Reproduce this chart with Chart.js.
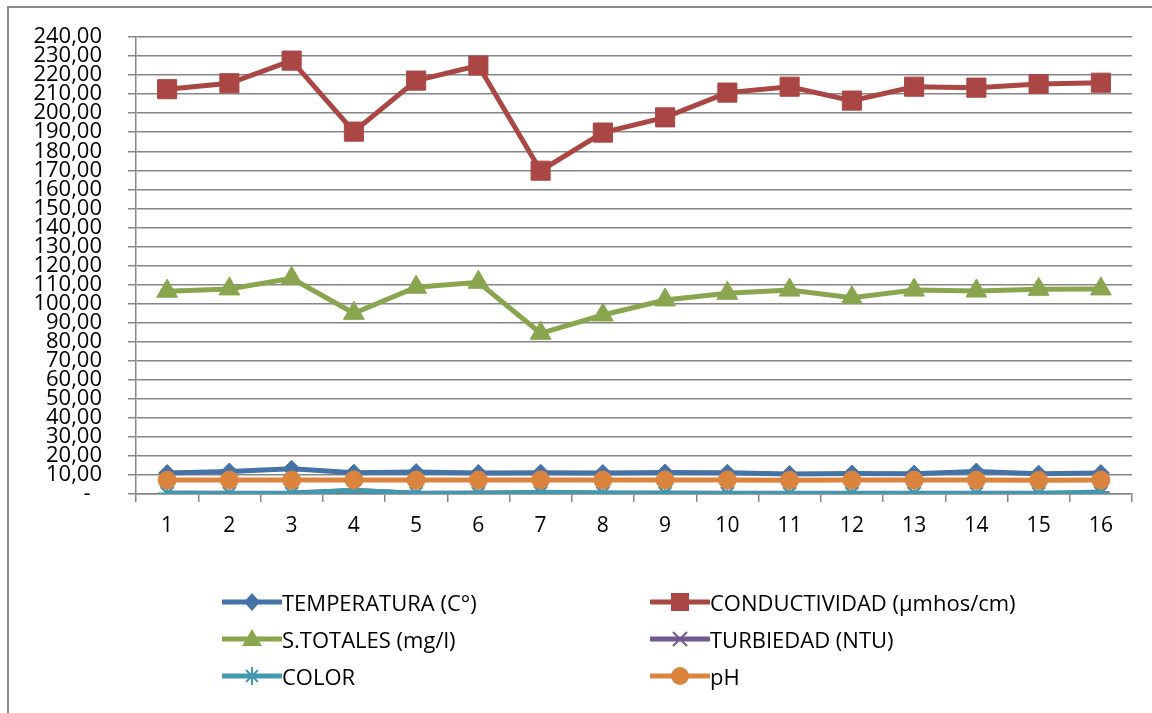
<!DOCTYPE html>
<html>
<head>
<meta charset="utf-8">
<script src="https://cdn.jsdelivr.net/npm/chart.js@4.4.1/dist/chart.umd.min.js"></script>
<style>
  html, body { margin: 0; padding: 0; background: #fff; }
  #wrap { position: relative; width: 1152px; height: 713px; overflow: hidden; font-family: 'Open Sans', sans-serif; }
  #frame { position: absolute; left: 7px; top: 6px; width: 1200px; height: 800px; border: 2px solid #8a8a8a; box-sizing: border-box; }
  #chart { position: absolute; left: 0; top: 0; }
  .lg { position: absolute; display: flex; align-items: center; height: 30px; font-size: 22px; color: #000; white-space: nowrap; }
  .lg svg { margin-right: 0; }
</style>
</head>
<body>
<div id="wrap">
  <div id="frame"></div>
  <canvas id="chart" width="1152" height="713"></canvas>
  <div id="legend"></div>
</div>
<script>
// Categories (sampling points)
var labels = ['1','2','3','4','5','6','7','8','9','10','11','12','13','14','15','16'];

// Series values
var temperatura = [11.0, 11.8, 13.2, 11.2, 11.5, 11.0, 11.2, 11.0, 11.3, 11.2, 10.5, 10.8, 10.7, 11.8, 10.7, 11.0];
var conductividad = [212.6, 215.7, 227.6, 190.3, 217.1, 225.0, 169.8, 189.8, 197.8, 210.8, 213.9, 206.6, 213.9, 213.4, 215.3, 216.0];
var sTotales = [106.5, 107.7, 113.3, 94.9, 108.6, 111.2, 84.4, 94.0, 101.9, 105.4, 107.1, 103.1, 107.1, 106.6, 107.5, 107.7];
var turbiedad = [0.5, 0.4, 0.5, 1.8, 0.4, 0.5, 0.6, 0.4, 0.5, 0.4, 0.4, 0.4, 0.4, 0.4, 0.4, 0.5];
var color = [0.3, 0.3, 0.3, 2.0, 0.3, 0.2, 0.9, 0.5, 0.3, 0.2, 0.2, 0.2, 0.2, 0.2, 0.2, 1.0];
var ph = [7.3, 7.3, 7.3, 7.4, 7.3, 7.3, 7.4, 7.3, 7.4, 7.4, 7.2, 7.3, 7.3, 7.3, 7.2, 7.3];

// Series names and colours
var names = ['TEMPERATURA (C°)', 'CONDUCTIVIDAD (µmhos/cm)', 'S.TOTALES (mg/l)', 'TURBIEDAD (NTU)', 'COLOR', 'pH'];
var colors = ['#4572A7', '#AA4643', '#89A54E', '#71588F', '#4198AF', '#DB843D'];

var yMin = 0, yMax = 240, yStep = 10;

function fmt(v) {
  if (v === 0) return '-  ';
  return v.toFixed(2).replace('.', ',');
}

function ds(i, data, style, radius, bw) {
  return {
    label: names[i],
    data: data,
    borderColor: colors[i],
    backgroundColor: colors[i],
    borderWidth: 5,
    pointStyle: style,
    pointRadius: radius,
    pointHoverRadius: radius,
    pointBackgroundColor: colors[i],
    pointBorderColor: colors[i],
    pointBorderWidth: bw,
    tension: 0,
    order: 6 - i   // later series drawn on top, like the original
  };
}

Chart.defaults.font.family = "'Open Sans', sans-serif";
Chart.defaults.color = '#000';

new Chart(document.getElementById('chart'), {
  type: 'line',
  data: {
    labels: labels,
    datasets: [
      ds(0, temperatura, 'rectRot', 8.5, 1),
      ds(1, conductividad, 'rect', 13.5, 1),
      ds(2, sTotales, 'triangle', 12, 1),
      ds(3, turbiedad, 'crossRot', 9, 2),
      ds(4, color, 'star', 9, 2),
      ds(5, ph, 'circle', 9, 1)
    ]
  },
  options: {
    responsive: false,
    devicePixelRatio: 1,
    animation: false,
    events: [],
    layout: { padding: { top: 37, left: 0, right: 20, bottom: 159 } },
    plugins: { legend: { display: false }, tooltip: { enabled: false } },
    scales: {
      x: {
        offset: true,
        afterFit: function(s) { s.height = 60; },
        grid: { offset: true, drawOnChartArea: false, drawTicks: true, tickLength: 8, color: '#868686', lineWidth: 1.5 },
        border: { color: '#868686', width: 1.5 },
        ticks: { font: { size: 21, lineHeight: 1 }, padding: 14, maxRotation: 0, autoSkip: false }
      },
      y: {
        min: yMin, max: yMax,
        afterFit: function(s) { s.width = 136; },
        grid: { color: '#868686', lineWidth: 1.5, tickLength: 8 },
        border: { color: '#868686', width: 1.5 },
        ticks: { stepSize: yStep, autoSkip: false, font: { size: 22, lineHeight: 1 }, padding: 26, callback: function(v) { return fmt(v); } }
      }
    }
  }
});

// Legend: two columns, three rows
var legendPos = [[222, 587], [650, 587], [222, 624], [650, 624], [222, 661], [650, 661]];
var markers = [
  function(c) { return '<polygon points="30,3 38,12 30,21 22,12" fill="' + c + '"/>'; },
  function(c) { return '<rect x="21" y="3" width="18" height="18" fill="' + c + '"/>'; },
  function(c) { return '<polygon points="30,2 40,19 20,19" fill="' + c + '"/>'; },
  function(c) { return '<path d="M23,5 L37,19 M37,5 L23,19" stroke="' + c + '" stroke-width="2"/>'; },
  function(c) { return '<path d="M21,12 L39,12 M30,3 L30,21 M24,6 L36,18 M36,6 L24,18" stroke="' + c + '" stroke-width="2"/>'; },
  function(c) { return '<circle cx="30" cy="12" r="9" fill="' + c + '"/>'; }
];
var lg = document.getElementById('legend');
names.forEach(function(n, i) {
  var el = document.createElement('div');
  el.className = 'lg';
  el.style.left = legendPos[i][0] + 'px';
  el.style.top = legendPos[i][1] + 'px';
  el.innerHTML = '<svg width="60" height="24" viewBox="0 0 60 24"><line x1="1" y1="12" x2="59" y2="12" stroke="' + colors[i] +
    '" stroke-width="5" stroke-linecap="round"/>' + markers[i](colors[i]) + '</svg><span>' + n + '</span>';
  lg.appendChild(el);
});
</script>
</body>
</html>
